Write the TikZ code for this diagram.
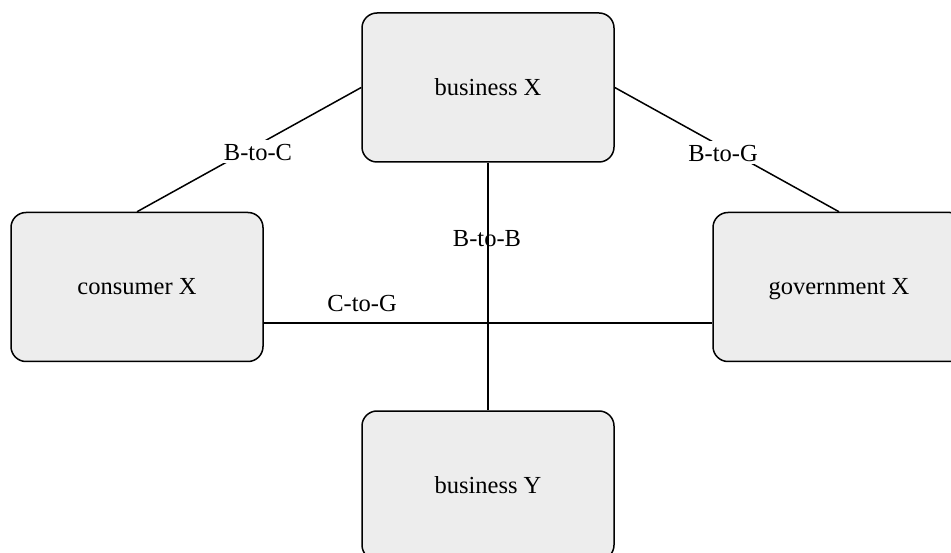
\documentclass[tikz,border=0pt]{standalone}
\usepackage{fontspec}
\setmainfont{Liberation Serif}
\usetikzlibrary{calc}
\tikzset{
  party/.style={draw=black, line width=1.5pt, fill=black!7, rounded corners=15pt,
    minimum width=252pt, minimum height=149pt, inner sep=0pt,
    text height=17pt, text depth=1pt, font=\fontsize{24.5}{29}\selectfont},
  link/.style={draw=black, line width=1.5pt},
  tag/.style={fill=white, inner xsep=1pt, inner ysep=3pt, text height=17pt, text depth=0pt,
    font=\fontsize{24.5}{29}\selectfont},
  bare/.style={tag, fill=none}
}
\begin{document}
\begin{tikzpicture}[x=1pt, y=-1pt]
  \useasboundingbox (0,0) rectangle (951,553);
  \clip (0,0) rectangle (951,553);
  % parties
  \node[party] (bx) at (488,87.5) {business X};
  \node[party] (cx) at (137,287) {consumer X};
  \node[party] (gx) at (839,287) {government X};
  \node[party] (by) at (488,485.5) {business Y};
  % relations
  \draw[link] (bx.west) -- (cx.north);
  \draw[link] (bx.east) -- (gx.north);
  \draw[link] (bx.south) -- (by.north);
  \draw[link] ([yshift=-36pt]cx.east) -- ([yshift=-36pt]gx.west);
  % relation labels
  \node[tag]  (lbc) at (258,152) {B-to-C};
  \node[tag]  (lbg) at (723,153) {B-to-G};
  \node[bare] (lbb) at (487,238) {B-to-B};
  \node[bare] (lcg) at (362,303) {C-to-G};
\end{tikzpicture}
\end{document}
